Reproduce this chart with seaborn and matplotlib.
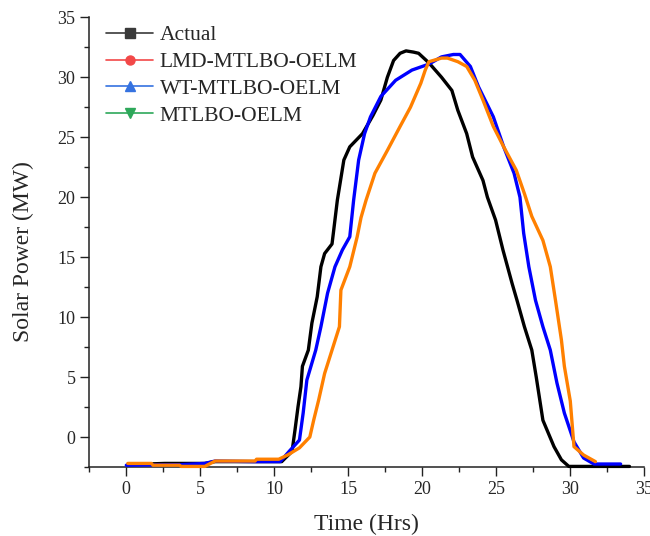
import numpy as np
import pandas as pd
import matplotlib
matplotlib.use("Agg")
import matplotlib.pyplot as plt
import matplotlib.ticker as mticker
from matplotlib.lines import Line2D
import seaborn as sns

# ── data ──────────────────────────────────────────────────────────────────
actual_t = [0.1, 2.6, 5.3, 6.0, 10.5, 11.2, 11.4, 11.6, 11.8, 11.9, 12.3, 12.54,
            12.9, 13.15, 13.4, 13.9, 14.0, 14.26, 14.7, 15.1, 15.96, 16.66, 17.2,
            17.64, 18.06, 18.5, 18.9, 19.4, 19.75, 20.45, 21.3, 22.0, 22.4, 23.0,
            23.4, 24.1, 24.4, 24.95, 25.45, 26.07, 26.4, 26.9, 27.4, 27.7, 28.15,
            28.9, 29.4, 29.9, 34.0]
actual_p = [-2.3, -2.2, -2.2, -2.05, -2.05, -1.2, 0.6, 2.5, 4.2, 5.9, 7.25, 9.5,
            11.7, 14.2, 15.3, 16.1, 17.1, 19.75, 23.1, 24.2, 25.3, 26.8, 28.1,
            30.0, 31.4, 32.0, 32.2, 32.1, 32.0, 31.2, 30.0, 28.9, 27.25, 25.3,
            23.35, 21.4, 20.0, 18.1, 15.6, 12.8, 11.4, 9.2, 7.25, 5.0, 1.4,
            -0.8, -1.9, -2.45, -2.45]

wt_t = [0.0, 3.7, 5.3, 6.0, 8.6, 10.4, 11.0, 11.7, 11.95, 12.2, 12.8, 13.15,
        13.6, 14.1, 14.6, 15.1, 15.36, 15.7, 16.1, 16.5, 17.2, 18.2, 19.3,
        20.45, 21.3, 22.1, 22.55, 23.25, 23.8, 24.8, 25.5, 26.2, 26.6, 26.85,
        27.2, 27.65, 28.15, 28.65, 29.1, 29.6, 30.25, 30.9, 31.6, 33.4]
wt_p = [-2.35, -2.3, -2.2, -2.0, -2.05, -2.05, -1.2, -0.25, 2.0, 4.75, 7.25, 9.2,
        12.0, 14.2, 15.6, 16.7, 19.75, 23.1, 25.3, 26.7, 28.4, 29.75, 30.6,
        31.1, 31.7, 31.9, 31.9, 30.9, 29.2, 26.7, 24.2, 22.0, 20.0, 17.0,
        14.2, 11.4, 9.2, 7.25, 4.5, 2.0, -0.4, -1.75, -2.25, -2.25]

lmd_t = [0.1, 1.7, 1.8, 3.6, 3.7, 5.3, 6.0, 8.7, 8.8, 10.3, 10.9, 11.7, 12.4,
         12.66, 13.0, 13.4, 13.9, 14.4, 14.5, 15.1, 15.6, 15.86, 16.2, 16.8,
         17.64, 18.5, 19.2, 19.9, 20.2, 20.45, 21.3, 21.7, 22.4, 23.0, 23.55,
         24.1, 24.8, 25.5, 26.35, 26.9, 27.4, 28.15, 28.65, 29.0, 29.4, 29.6,
         30.0, 30.25, 30.9, 31.7]
lmd_p = [-2.2, -2.2, -2.35, -2.35, -2.45, -2.45, -2.0, -2.0, -1.85, -1.85, -1.5,
         -0.9, 0.0, 1.4, 3.1, 5.3, 7.25, 9.2, 12.25, 14.2, 16.7, 18.3, 19.75,
         22.0, 23.9, 25.9, 27.5, 29.5, 30.6, 31.3, 31.6, 31.6, 31.3, 30.9, 29.75,
         28.1, 25.9, 24.2, 22.25, 20.3, 18.4, 16.4, 14.2, 11.4, 8.1, 5.9, 3.0,
         -0.8, -1.5, -2.05]

legend_labels = ["Actual", "LMD-MTLBO-OELM", "WT-MTLBO-OELM", "MTLBO-OELM"]
legend_colors = ["#3a3a3a", "#f24848", "#3572e0", "#2ea85a"]
legend_markers = ["s", "o", "^", "v"]

x_ticks = [0, 5, 10, 15, 20, 25, 30, 35]
y_ticks = [0, 5, 10, 15, 20, 25, 30, 35]

# ── styling ───────────────────────────────────────────────────────────────
sns.set_style("ticks")
plt.rcParams["font.family"] = ["Liberation Serif", "DejaVu Serif"]

fig = plt.figure(figsize=(6.5, 5.36), dpi=100)
ax = fig.add_axes([0.1374, 0.1287, 0.8538, 0.839])

# drawing order: black first, blue over it, orange on top
curves = [
    (actual_t, actual_p, "#000000"),
    (wt_t, wt_p, "#0000ff"),
    (lmd_t, lmd_p, "#ff8000"),
]
for t, p, c in curves:
    df = pd.DataFrame({"t": t, "p": p})
    sns.lineplot(data=df, x="t", y="p", color=c, lw=2.4, sort=False,
                 estimator=None, ax=ax, clip_on=False, zorder=3)

ax.set_xlim(-2.5, 35)
ax.set_ylim(-2.5, 35)
ax.xaxis.set_major_locator(mticker.FixedLocator(x_ticks))
ax.yaxis.set_major_locator(mticker.FixedLocator(y_ticks))
ax.xaxis.set_minor_locator(mticker.MultipleLocator(2.5))
ax.yaxis.set_minor_locator(mticker.MultipleLocator(2.5))
ax.tick_params(which="major", direction="out", length=6.5, width=1.0,
               labelsize=13, pad=3.5, color="#222222")
ax.tick_params(which="minor", direction="out", length=3.5, width=1.0,
               color="#222222")
sns.despine(ax=ax)
for s in ("left", "bottom"):
    ax.spines[s].set_linewidth(1.1)
    ax.spines[s].set_color("#222222")

ax.set_xlabel("Time (Hrs)", fontsize=17)
ax.set_ylabel("Solar Power (MW)", fontsize=17)
ax.xaxis.set_label_coords(0.5, -0.105)
ax.yaxis.set_label_coords(-0.1, 0.478)

# legend entries do not correspond to the drawn line colours (as in the source)
handles = [Line2D([], [], color=c, marker=m, lw=1.2, markersize=6.5)
           for c, m in zip(legend_colors, legend_markers)]
ax.legend(handles, legend_labels, loc="upper left", bbox_to_anchor=(0.03, 0.982),
          frameon=False, fontsize=15.5, handlelength=2.2, handletextpad=0.3,
          labelspacing=0.31, borderpad=0, borderaxespad=0)

fig.savefig("out.png", dpi=100)
